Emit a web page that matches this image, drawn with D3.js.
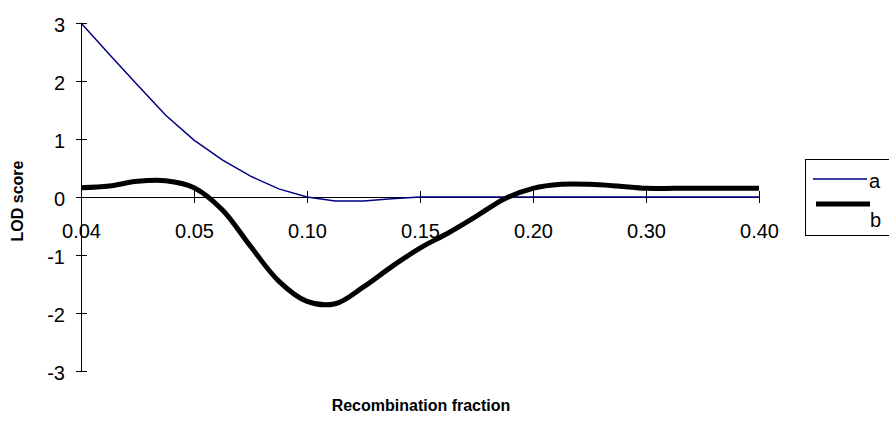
<!DOCTYPE html>
<html>
<head>
<meta charset="utf-8">
<script src="https://cdn.jsdelivr.net/npm/d3@7"></script>
<style>
  body { margin: 0; background: #fff; }
  svg { display: block; font-family: "Liberation Sans", Arial, sans-serif; }
</style>
</head>
<body>
<div class="chart"></div>
<script>
// category labels along x (Excel shows every 4th one)
const categories = ['0.04', '', '', '', '0.05', '', '', '', '0.10', '', '', '', '0.15',
  '', '', '', '0.20', '', '', '', '0.30', '', '', '', '0.40']
const yTickValues = [-3, -2, -1, 0, 1, 2, 3]

const seriesA = [3.0, 2.46, 1.93, 1.41, 0.98, 0.64, 0.36, 0.14, 0.0, -0.07, -0.07, -0.03, 0.0,
  0, 0, 0, 0, 0, 0, 0, 0, 0, 0, 0, 0]
const seriesB = [0.16, 0.19, 0.27, 0.28, 0.16, -0.22, -0.85, -1.45, -1.8, -1.84, -1.55, -1.2, -0.88,
  -0.62, -0.33, -0.03, 0.15, 0.22, 0.22, 0.19, 0.15, 0.15, 0.15, 0.15, 0.15]

const width = 889
const height = 421
const plot = { left: 81, right: 759, top: 23, bottom: 371 }

const svg = d3.select('.chart').append('svg')
  .attr('width', width)
  .attr('height', height)

const xScale = d3.scalePoint()
  .domain(d3.range(categories.length))
  .range([plot.left, plot.right])

const yScale = d3.scaleLinear()
  .domain([-3, 3])
  .range([plot.bottom, plot.top])

const labelled = d3.range(categories.length).filter(i => categories[i] !== '')

// x axis sits on zero
svg.append('g')
  .attr('transform', 'translate(0,' + yScale(0) + ')')
  .call(
    d3.axisBottom(xScale)
      .tickValues(labelled)
      .tickSizeOuter(0)
      .tickFormat(i => categories[i])
  )
  .call(g => g.select('.domain').attr('stroke', '#000'))
  .call(g => g.selectAll('.tick line').attr('y1', -6).attr('y2', 6).attr('stroke', '#000'))
  .call(g => g.selectAll('.tick text')
    .attr('y', 41).attr('dy', null)
    .attr('fill', '#000')
    .style('font-size', '20px')
    .style('font-family', '"Liberation Sans", Arial, sans-serif'))

// y axis
svg.append('g')
  .attr('transform', 'translate(' + plot.left + ',0)')
  .call(
    d3.axisLeft(yScale)
      .tickValues(yTickValues)
      .tickSizeOuter(0)
      .tickFormat(d => String(d))
  )
  .call(g => g.select('.domain').attr('stroke', '#000'))
  .call(g => g.selectAll('.tick line').attr('x1', -5).attr('x2', 6).attr('stroke', '#000'))
  .call(g => g.selectAll('.tick text')
    .attr('x', -16).attr('dy', '0.4em')
    .attr('fill', '#000')
    .style('font-size', '20px')
    .style('font-family', '"Liberation Sans", Arial, sans-serif'))

const lineA = d3.line()
  .x((d, i) => xScale(i))
  .y(d => yScale(d))

const lineB = d3.line()
  .x((d, i) => xScale(i))
  .y(d => yScale(d))
  .curve(d3.curveCatmullRom.alpha(0.5))

svg.append('path')
  .datum(seriesA)
  .attr('fill', 'none')
  .attr('stroke', '#000080')
  .attr('stroke-width', 1.5)
  .attr('d', lineA)

svg.append('path')
  .datum(seriesB)
  .attr('fill', 'none')
  .attr('stroke', '#000')
  .attr('stroke-width', 5)
  .attr('d', lineB)

// axis titles
svg.append('text')
  .attr('x', 421)
  .attr('y', 411)
  .attr('text-anchor', 'middle')
  .style('font-size', '16px')
  .style('font-weight', 'bold')
  .text('Recombination fraction')

svg.append('text')
  .attr('transform', 'translate(23,' + 201 + ') rotate(-90)')
  .attr('text-anchor', 'middle')
  .style('font-size', '16px')
  .style('font-weight', 'bold')
  .text('LOD score')

// legend, box runs off the right edge like the original
const legend = svg.append('g')
legend.append('rect')
  .attr('x', 805.5).attr('y', 159.5)
  .attr('width', 100).attr('height', 76)
  .attr('fill', '#fff')
  .attr('stroke', '#000')

legend.append('line')
  .attr('x1', 813).attr('x2', 867)
  .attr('y1', 179).attr('y2', 179)
  .attr('stroke', '#000080').attr('stroke-width', 1.5)
legend.append('text')
  .attr('x', 869).attr('y', 188)
  .style('font-size', '20px')
  .text('a')

legend.append('line')
  .attr('x1', 816).attr('x2', 870)
  .attr('y1', 204).attr('y2', 204)
  .attr('stroke', '#000').attr('stroke-width', 5)
legend.append('text')
  .attr('x', 870).attr('y', 227)
  .style('font-size', '20px')
  .text('b')
</script>
</body>
</html>
